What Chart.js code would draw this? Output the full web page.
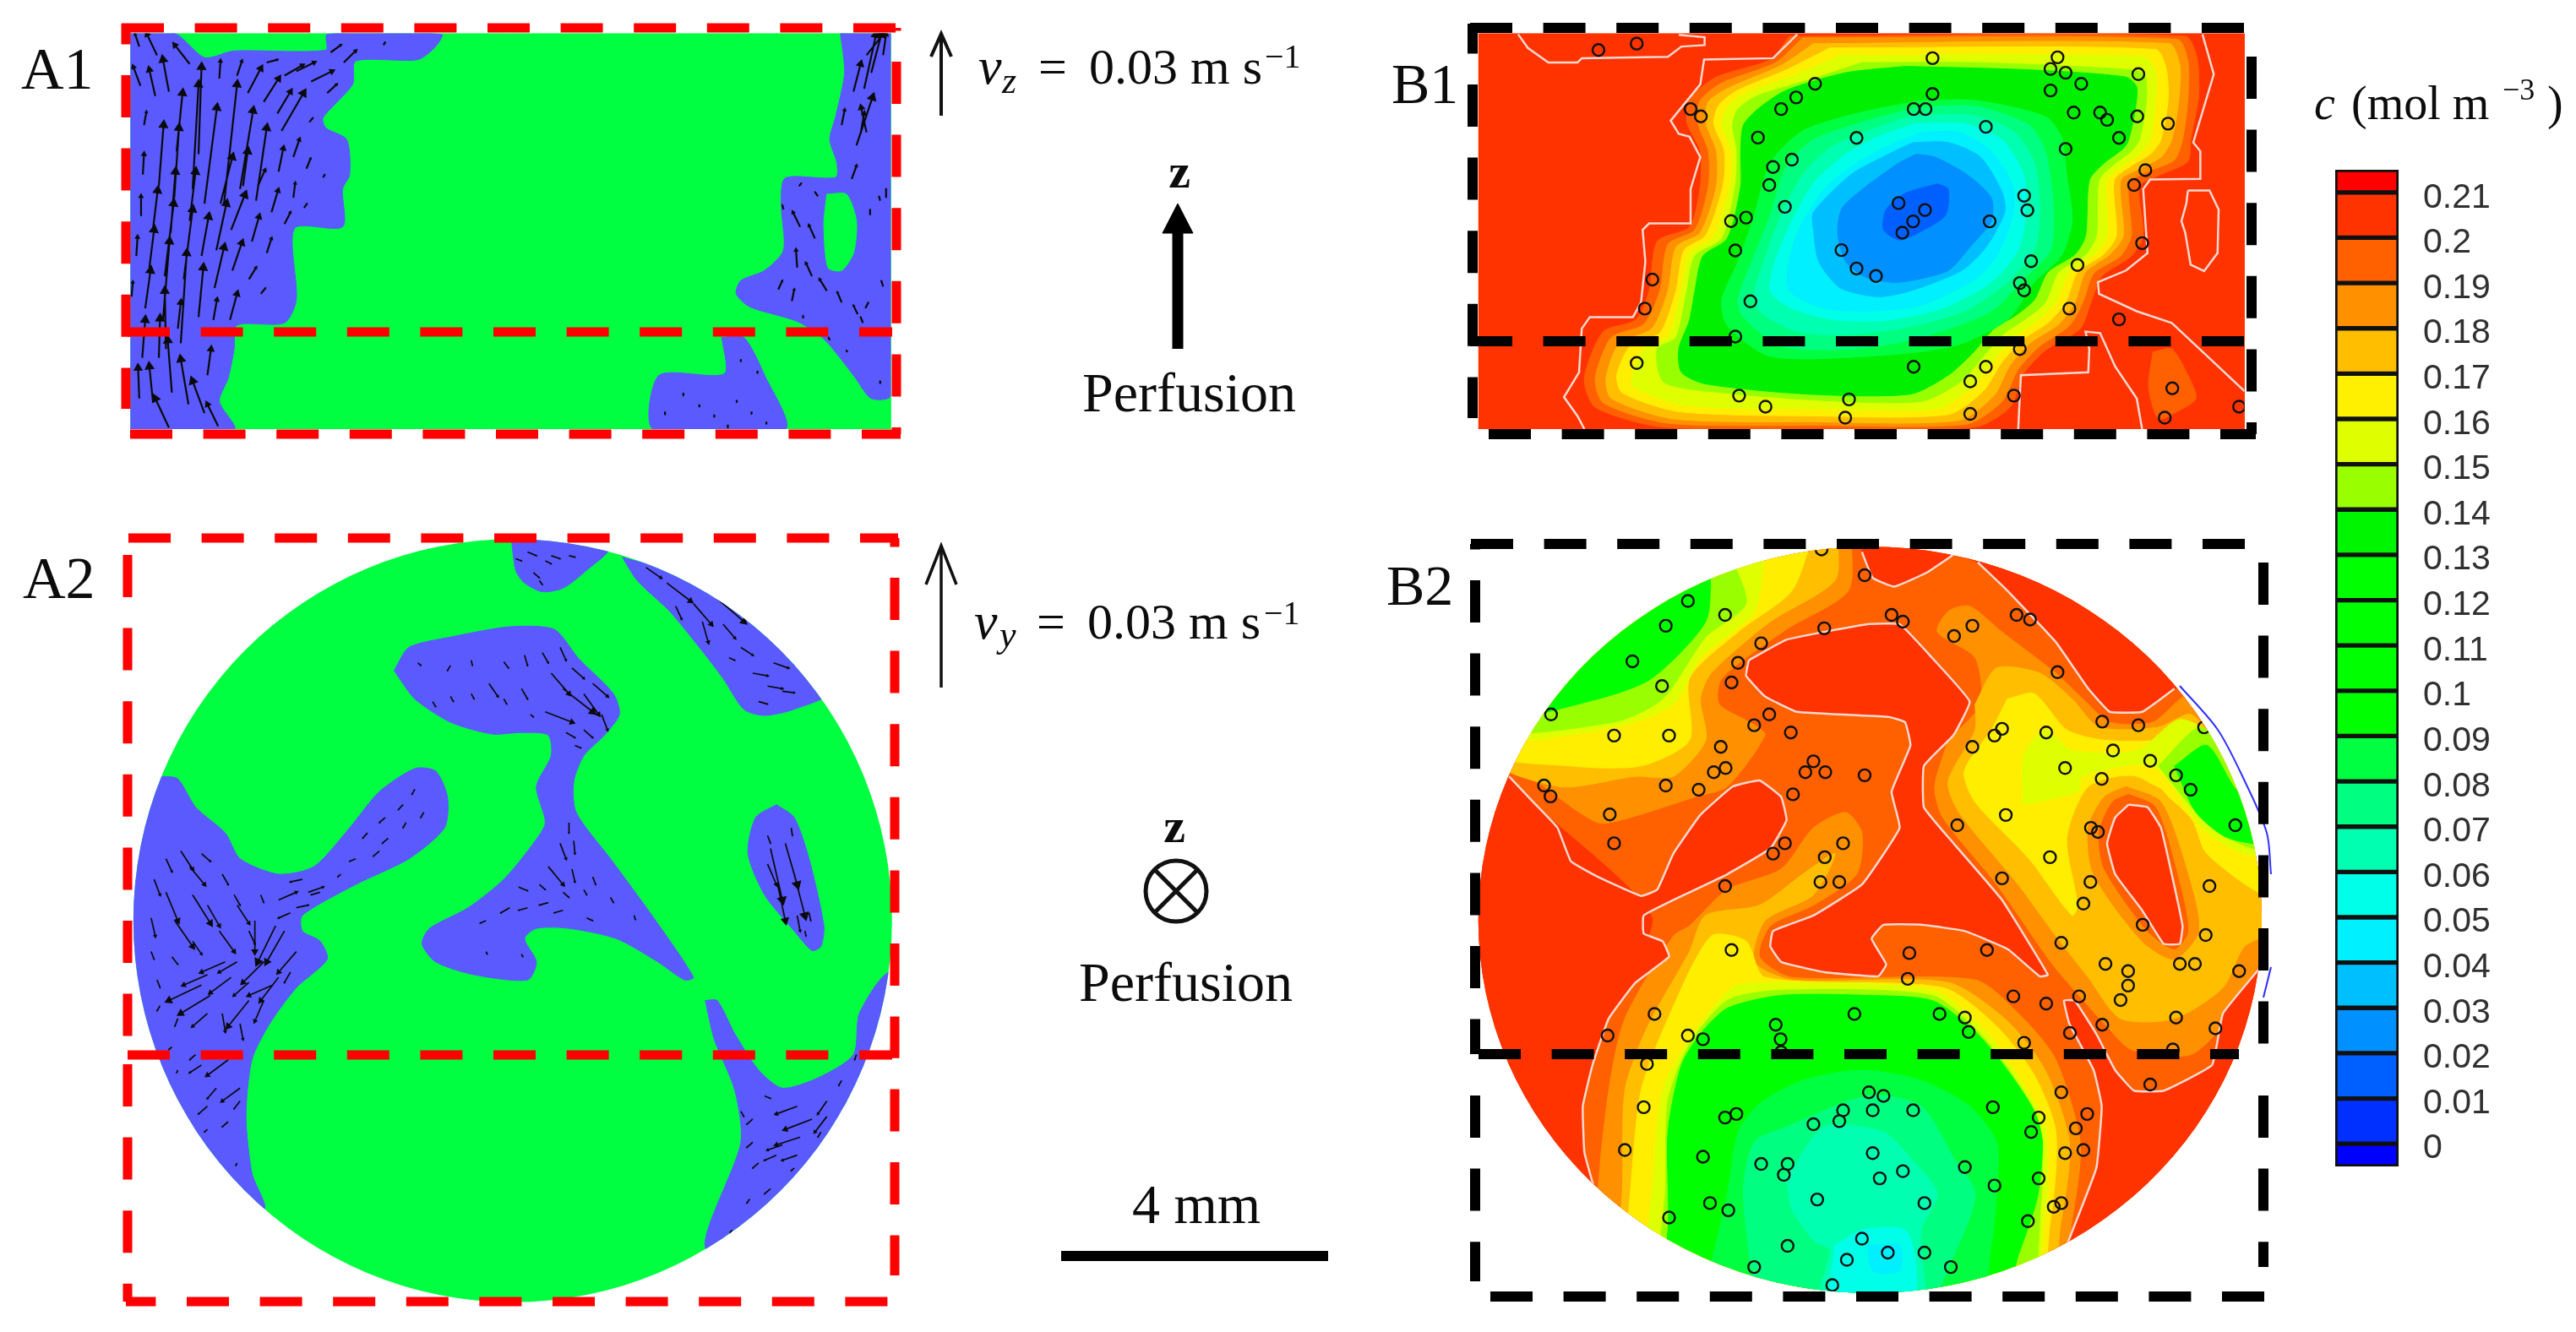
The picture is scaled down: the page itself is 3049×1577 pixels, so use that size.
<!DOCTYPE html>
<html>
<head>
<meta charset="utf-8">
<title>Velocity and concentration</title>
<script src="https://cdn.jsdelivr.net/npm/chart.js@4"></script>
<style>
html, body { margin: 0; padding: 0; background: #fff; overflow: hidden; }
canvas { position: absolute; }
</style>
</head>
<body>
<script>
// colours of the contour levels
var cellLow = [0.21,0.20,0.19,0.18,0.17,0.16,0.15,0.14,0.13,0.12,0.11,0.10,0.09,0.08,0.07,0.06,0.05,0.04,0.03,0.02,0.01,0,-0.005];
var cellHigh = [0.215,0.21,0.20,0.19,0.18,0.17,0.16,0.15,0.14,0.13,0.12,0.11,0.10,0.09,0.08,0.07,0.06,0.05,0.04,0.03,0.02,0.01,0];
var cellColor = ['#ff0000','#ff3300','#ff6000','#ff9000','#ffbf00','#ffef00','#dfff00','#99ff00','#00f500','#00ff00','#00ff00','#00ff00','#00ff00','#00ff40','#00ff80','#00ffb0','#00ffe8','#00f0ff','#00bfff','#0090ff','#0060ff','#0030ff','#0000ff'];
var GREEN = '#00ff40', BLUE = '#5a5aff', WHITE_LINE = '#ffd8d0';

// A1, crop 0,0 1100x540
var a1Base = [[220,115],[1503,115],[1503,1475],[220,1475],[220,115]];
var a1Blue = [
 [[220,115],[295,115],[345,198],[395,175],[550,172],[552,118],[745,118],[735,160],[705,205],[600,210],[595,290],[545,405],[550,440],[585,480],[590,600],[578,650],[578,780],[497,785],[500,1030],[480,1110],[400,1118],[395,1200],[385,1300],[370,1380],[395,1475],[220,1475],[220,115]],
 [[1418,115],[1425,250],[1410,400],[1400,480],[1412,560],[1410,610],[1325,612],[1318,700],[1322,860],[1290,930],[1250,965],[1242,1010],[1265,1055],[1345,1105],[1390,1165],[1440,1290],[1470,1370],[1503,1360],[1503,115],[1418,115]],
 [[1218,1160],[1255,1160],[1290,1290],[1325,1475],[1102,1475],[1112,1290],[1222,1285],[1218,1160]]
];
var a1Green = [[1395,668],[1428,668],[1445,760],[1440,870],[1420,930],[1397,920],[1390,770],[1395,668]];
var a1Arrows = [
 [237,295,225,230],[262,330,252,240],[285,315,275,205],[320,220,295,155],[265,190,248,118],[235,160,228,118],
 [243,430,247,385],[241,600,243,530],[237,740,238,675],[230,880,232,815],[222,1020,224,970],[240,1230,245,1100],[235,1370,233,1265],
 [268,640,276,430],[258,790,266,655],[252,920,260,790],[245,1060,254,930],[268,1230,270,1095],[258,1380,252,1260],[285,1470,262,1370],
 [298,520,308,320],[294,680,302,440],[288,800,296,590],[278,950,293,700],[275,1100,286,830],[280,1200,278,1000],[290,1350,283,1170],[318,1390,305,1235],
 [335,530,340,230],[325,650,335,290],[320,760,330,590],[310,960,325,720],[305,1180,315,870],[300,1130,305,1040],[345,1420,325,1310],
 [345,700,366,370],[340,880,352,745],[335,1090,343,920],[368,1465,350,1390],
 [372,700,392,540],[365,860,382,700],[362,990,378,850],[360,1100,366,1030],[350,1290,356,1200],
 [378,700,400,290],[390,790,413,670],[392,930,408,835],[388,1100,400,1010],
 [405,650,427,380],[432,690,450,440],[410,640,418,520],[425,830,437,745],[450,870,458,820],[420,960,432,920],[440,1010,448,990],
 [418,320,440,235],[445,350,470,270],[435,640,447,585],[458,730,469,655],[468,390,490,315],[475,450,512,320],[470,590,478,510],[480,770,490,730],[495,680,498,630],[495,540,505,480],[513,715,518,700],[517,580,524,545],[522,420,528,405],
 [480,260,510,225],[500,245,530,215],[525,280,560,245],[552,320,568,290],[450,215,468,205],[580,215,600,175],[558,180,575,155],[400,260,408,210],[370,270,372,210],[545,610,548,600],[647,155,650,145],
 [1462,190,1490,118],[1470,250,1487,118],[1490,190,1495,118],[1440,315,1452,220],[1458,305,1478,120],[1420,430,1425,378],[1445,500,1472,335],[1452,460,1458,390],[1462,455,1453,370],[1437,615,1445,570],
 [1348,640,1352,630],[1380,675,1375,660],[1495,680,1495,650],[1485,690,1483,675],[1468,740,1468,720],[1322,720,1320,705],[1350,780,1338,730],[1375,820,1365,775],[1345,920,1343,860],[1370,950,1360,905],[1395,1000,1383,960],[1420,1040,1413,1005],[1313,995,1320,965],[1336,1035,1340,995],[1460,1060,1465,1040],[1447,1080,1440,1050],[1490,985,1487,965],[1355,1095,1355,1085],[1456,1110,1452,1090],[1400,1170,1398,1160],[1430,1210,1428,1205],[1485,1320,1485,1310],
 [1250,1235,1250,1243],[1278,1275,1278,1283],[1153,1350,1153,1360],[1180,1390,1180,1398],[1243,1375,1243,1383],[1122,1415,1122,1425],[1205,1425,1205,1433],[1268,1415,1268,1423],[1293,1450,1293,1458],[1228,1460,1228,1470]
];

// A2, crop 0,620 1100x957
var a2Base = [[100,0],[1568,0],[1568,1568],[100,1568],[100,0]];
var a2Blue = [
 [[862,20],[1025,50],[990,90],[950,125],[915,132],[885,115],[870,90],[862,20]],
 [[1050,65],[1150,100],[1260,180],[1400,325],[1340,360],[1290,372],[1255,360],[1220,300],[1180,240],[1130,170],[1075,110],[1050,65]],
 [[665,285],[690,240],[760,220],[860,200],[935,205],[975,260],[1035,330],[1045,370],[1020,410],[985,450],[968,500],[972,560],[1030,650],[1100,760],[1170,880],[1155,885],[1110,850],[1040,805],[960,785],[905,785],[885,805],[905,850],[890,885],[800,875],[735,850],[712,815],[725,785],[790,745],[850,690],[900,620],[920,580],[905,510],[930,450],[925,410],[880,405],[830,408],[760,385],[700,340],[665,285]],
 [[275,490],[300,495],[330,550],[380,600],[405,650],[470,680],[530,665],[590,590],[640,520],[700,475],[735,480],[755,530],[750,590],[690,650],[600,700],[510,760],[510,790],[540,810],[552,845],[500,900],[455,970],[425,1040],[415,1150],[425,1260],[445,1330],[300,1300],[150,1000],[150,600],[275,490]],
 [[1190,925],[1210,925],[1240,990],[1280,1060],[1320,1095],[1380,1075],[1440,1030],[1450,950],[1500,870],[1560,900],[1560,1300],[1195,1410],[1250,1200],[1240,1100],[1205,1000],[1190,925]],
 [[1310,545],[1340,570],[1365,650],[1390,780],[1385,820],[1370,828],[1340,790],[1290,720],[1262,640],[1275,570],[1310,545]]
];
var a2Arrows = [
 [890,55,905,62],[930,62,945,68],[960,62,970,65],[870,68,880,72],[900,95,910,105],[920,72,930,78],[910,110,915,118],
 [1090,85,1115,105],[1125,115,1165,150],[1140,160,1150,185],[1170,155,1200,195],[1185,190,1195,230],[1210,145,1255,190],[1220,195,1240,222],[1250,240,1270,255],[1270,290,1295,295],[1295,315,1320,320],[1305,270,1330,280],[1320,325,1340,328],[1230,260,1240,265],[1280,345,1295,350],
 [705,270,710,275],[760,275,755,285],[795,265,797,275],[850,268,858,280],[885,255,890,275],[915,250,925,270],[945,240,955,265],[965,280,985,300],[1000,310,1025,335],[930,290,960,330],[950,320,1000,365],[985,330,1010,370],[1015,370,1025,400],[920,365,965,385],[955,405,970,415],[985,400,1000,415],[970,430,980,435],[825,310,840,335],[795,330,800,340],[850,340,855,350],[880,320,890,340],[730,345,735,355],[760,335,765,345],[895,370,900,375],
 [960,580,960,600],[945,620,955,650],[968,615,970,640],[925,665,950,700],[965,670,970,695],[1000,685,1005,700],[875,705,890,712],[910,700,920,710],[950,715,960,725],[985,710,990,720],[860,745,845,755],[890,745,875,750],[925,735,910,740],[950,750,935,755],[820,770,810,775],[1030,725,1035,735],[1070,760,1072,768],[990,765,1000,770],[820,830,822,835],[880,835,882,840],
 [280,650,290,675],[305,635,325,670],[320,665,345,700],[260,690,270,720],[280,715,300,770],[295,770,325,820],[325,720,355,775],[350,740,370,780],[340,640,355,655],[375,680,385,700],[395,720,405,740],[400,740,420,775],[255,765,262,800],[255,830,260,845],[290,840,300,855],[325,810,340,835],[370,790,395,830],[420,790,430,815],[440,720,445,735],[470,730,500,715],[520,715,545,705],[490,755,470,765],[500,745,520,740],[430,770,430,830],[465,780,435,850],[480,790,450,850],[500,830,470,870],[445,850,410,890],[470,880,440,925],[490,870,480,890],[400,850,370,870],[380,850,340,870],[350,875,310,895],[340,895,285,925],[355,915,305,950],[390,880,355,910],[420,890,395,915],[460,895,420,915],[420,925,385,975],[445,925,430,965],[375,950,380,985],[405,970,410,1000],[350,950,325,975],[300,960,295,975],[270,935,265,945],[265,885,270,900],[385,1040,350,1070],[340,1050,320,1065],[405,1095,375,1120],[365,1095,350,1115],[350,1130,335,1145],[385,1160,375,1170],[405,1120,395,1135],[290,1015,285,1020],[300,1060,298,1065],[400,1240,398,1245],[350,1175,345,1180],[330,1030,320,1040],
 [700,515,695,525],[680,545,672,555],[650,570,640,580],[715,560,710,570],[685,580,680,590],[655,610,645,620],[620,600,612,610],[600,650,590,655],[640,635,630,645],[575,680,570,685],[540,715,525,720],[510,690,490,695],
 [1290,1110,1300,1115],[1345,1130,1310,1145],[1395,1120,1380,1145],[1370,1155,1325,1175],[1395,1150,1375,1180],[1350,1190,1310,1205],[1320,1205,1295,1215],[1345,1225,1320,1235],[1310,1225,1290,1235],[1270,1155,1260,1165],[1270,1200,1260,1210],[1280,1240,1270,1250],[1250,1140,1255,1150],[1385,1180,1380,1190],[1340,1250,1335,1255],[1300,1290,1290,1300],[1265,1310,1260,1318],[1235,1370,1232,1375],[1420,1080,1415,1090],[1445,1030,1442,1040],[1430,1120,1425,1130],
 [1300,630,1320,730],[1325,620,1345,700],[1340,680,1358,760],[1295,660,1310,700],[1312,700,1325,770],[1345,760,1350,790],[1365,755,1368,770],[1358,790,1360,800],[1335,590,1337,605],[1295,605,1300,620]
];

// B1, crop 1700,0 1000x540. Each level painted over the one before it
var b1Base = [[78,115],[1500,115],[1500,1475],[78,1475],[78,115]];
var b1Levels = [
 ['#ff6000',[[655,125],[1390,125],[1412,200],[1415,330],[1400,480],[1395,555],[1345,600],[1305,640],[1312,810],[1290,880],[1235,950],[1215,1040],[1195,1130],[1130,1205],[1090,1285],[1065,1400],[1000,1468],[700,1472],[420,1468],[295,1400],[275,1300],[310,1140],[370,1100],[395,1000],[410,830],[470,780],[490,640],[490,520],[465,420],[470,340],[520,265],[620,205],[655,125]]],
 ['#ff6000',[[1330,1210],[1365,1200],[1395,1290],[1410,1370],[1370,1420],[1340,1440],[1322,1330],[1330,1210]]],
 ['#ff9000',[[680,130],[1375,135],[1395,210],[1395,340],[1385,480],[1370,550],[1320,590],[1285,630],[1290,810],[1270,880],[1220,940],[1200,1040],[1175,1120],[1120,1190],[1080,1270],[1050,1380],[985,1458],[700,1462],[430,1455],[310,1385],[295,1300],[325,1160],[385,1115],[415,1000],[430,840],[480,790],[505,640],[505,520],[485,420],[490,345],[530,285],[630,215],[680,130]]],
 ['#ffbf00',[[700,150],[1360,150],[1380,225],[1378,345],[1365,480],[1345,540],[1305,580],[1270,620],[1275,810],[1250,875],[1205,935],[1185,1040],[1155,1115],[1105,1175],[1065,1255],[1035,1360],[970,1445],[700,1450],[440,1440],[325,1370],[315,1300],[340,1180],[400,1130],[430,1000],[445,850],[490,800],[520,640],[520,520],[500,420],[505,350],[545,300],[640,225],[700,150]]],
 ['#ffee00',[[730,165],[1335,170],[1355,240],[1358,345],[1345,480],[1325,530],[1290,570],[1258,620],[1262,810],[1238,875],[1190,935],[1168,1040],[1135,1110],[1090,1165],[1050,1245],[1015,1345],[950,1425],[700,1430],[450,1415],[345,1350],[335,1290],[360,1190],[415,1145],[445,1000],[460,860],[500,810],[532,640],[535,520],[515,425],[525,360],[560,310],[650,240],[730,165]]],
 ['#dfff00',[[750,190],[1315,195],[1335,250],[1335,345],[1325,480],[1305,530],[1275,570],[1245,620],[1245,810],[1222,875],[1175,935],[1150,1040],[1115,1105],[1075,1155],[1035,1235],[995,1330],[930,1405],[700,1405],[465,1395],[365,1330],[365,1280],[385,1200],[430,1155],[455,1000],[470,870],[515,815],[545,640],[548,520],[530,430],[540,370],[575,320],[670,255],[750,190]]],
 ['#99ff00',[[790,215],[1000,215],[1290,240],[1315,260],[1318,345],[1305,480],[1290,520],[1258,565],[1230,620],[1225,810],[1205,875],[1155,935],[1130,1040],[1095,1095],[1055,1145],[1015,1225],[975,1310],[900,1380],[700,1375],[480,1340],[420,1310],[410,1200],[445,1160],[465,1000],[480,880],[530,820],[555,640],[558,520],[550,430],[560,375],[595,330],[700,270],[790,215]]],
 ['#00f000',[[870,228],[1100,240],[1280,265],[1300,300],[1295,400],[1280,500],[1240,560],[1212,620],[1205,810],[1185,875],[1135,935],[1110,1030],[1075,1085],[1035,1130],[995,1215],[950,1290],[880,1355],[690,1355],[500,1320],[455,1280],[450,1200],[470,1100],[480,1000],[495,880],[540,820],[565,640],[565,520],[570,430],[600,370],[650,310],[760,250],[870,228]]],
 ['#00ff40',[[900,345],[1000,345],[1130,400],[1160,470],[1170,600],[1180,760],[1160,880],[1110,970],[1060,1100],[960,1190],[800,1225],[620,1225],[540,1120],[530,1030],[560,900],[590,740],[620,560],[680,450],[780,390],[900,345]]],
 ['#00ff80',[[890,370],[1000,365],[1100,430],[1130,520],[1145,700],[1140,860],[1090,960],[1030,1070],[900,1160],[770,1200],[640,1190],[570,1090],[560,1030],[590,880],[620,740],[650,570],[700,480],[790,420],[890,370]]],
 ['#00ffb0',[[880,400],[990,395],[1070,450],[1110,560],[1120,720],[1110,860],[1060,970],[980,1070],[860,1130],[760,1150],[670,1140],[600,1070],[590,1010],[610,890],[640,740],[680,600],[730,510],[800,450],[880,400]]],
 ['#00ffe8',[[890,425],[980,425],[1050,480],[1090,600],[1095,720],[1080,860],[1030,970],[940,1060],[840,1100],[740,1100],[660,1060],[620,1000],[630,890],[660,760],[700,630],[760,530],[820,470],[890,425]]],
 ['#00f0ff',[[900,455],[970,455],[1030,520],[1070,640],[1070,740],[1040,880],[1000,960],[900,1050],[800,1070],[720,1060],[660,1010],[650,950],[670,800],[720,650],[780,560],[840,500],[900,455]]],
 ['#00bfff',[[885,490],[950,490],[1010,540],[1050,660],[1055,730],[1020,850],[975,930],[880,1000],[820,1020],[750,990],[710,900],[700,790],[700,730],[770,600],[850,520],[885,490]]],
 ['#0090ff',[[890,530],[925,540],[985,600],[1030,680],[1030,760],[990,850],[950,930],[860,970],[800,955],[760,900],[745,800],[755,710],[850,570],[890,530]]],
 ['#0060ff',[[930,632],[950,650],[945,740],[900,795],[860,825],[830,790],[835,720],[870,665],[930,632]]]
];
var b1White = [
 [[152,118],[170,165],[208,215],[262,215],[270,200],[430,195],[455,160],[498,155],[498,128],[450,120]],
 [[670,118],[625,200],[497,205],[490,290],[435,415],[450,460],[470,470],[490,540],[472,650],[472,768],[395,768],[383,790],[388,900],[380,1040],[365,1090],[285,1090],[270,1130],[265,1280],[237,1365],[262,1430],[275,1475]],
 [[1422,118],[1443,255],[1405,490],[1418,520],[1418,615],[1325,617],[1312,650],[1320,870],[1280,930],[1228,970],[1230,1010],[1300,1070],[1365,1110],[1440,1240],[1500,1345]],
 [[1395,655],[1435,655],[1452,720],[1450,870],[1425,932],[1400,910],[1390,800],[1383,760],[1392,700],[1395,655]],
 [[1080,1475],[1085,1290],[1210,1280],[1212,1200],[1205,1140],[1232,1145],[1260,1260],[1300,1370],[1310,1475]]
];
var b1Dots = [[372,150],[301,172],[921,200],[1153,197],[1140,237],[1168,250],[1303,255],[703,288],[1197,288],[1140,311],[921,323],[668,335],[640,375],[886,375],[908,375],[472,375],[491,400],[1183,387],[1232,387],[1245,412],[1301,400],[1358,425],[1020,436],[597,473],[780,474],[1267,474],[1168,512],[660,549],[625,574],[1316,585],[618,636],[1295,636],[1091,673],[858,698],[647,711],[907,722],[1097,723],[575,748],[547,760],[885,761],[1027,761],[865,800],[1310,836],[555,861],[752,860],[1104,898],[1190,911],[780,923],[816,949],[401,961],[1083,973],[1091,998],[583,1036],[387,1061],[1175,1061],[1267,1098],[555,1157],[1083,1200],[372,1248],[886,1261],[1020,1261],[991,1311],[1366,1335],[562,1360],[1072,1360],[766,1373],[611,1398],[1490,1398],[991,1423],[759,1436],[1352,1436]];

// B2, crop 1700,620 1000x957
var b2Base = [[0,0],[1568,0],[1568,1568],[0,1568],[0,0]];
var b2Levels = [
 // everything that is not deep red, the red islands go over it later
 ['#ff6000',[[770,20],[1568,20],[1568,1200],[1200,1568],[250,1568],[250,1000],[330,900],[400,760],[100,440],[300,300],[550,100],[770,20]]],
 // upper left
 ['#ff9000',[[770,20],[765,130],[650,205],[530,300],[525,350],[590,390],[610,410],[540,510],[480,530],[360,570],[300,580],[200,510],[100,430],[300,100],[770,20]]],
 ['#ffbf00',[[745,20],[740,110],[620,190],[510,290],[490,340],[500,420],[440,490],[370,490],[230,510],[100,450],[300,100],[745,20]]],
 ['#ffee00',[[700,20],[660,130],[560,210],[470,300],[470,420],[380,470],[250,470],[100,440],[300,100],[700,20]]],
 ['#dfff00',[[610,40],[590,170],[490,260],[440,350],[330,395],[100,410],[300,100],[610,40]]],
 ['#99ff00',[[545,60],[575,155],[500,220],[420,340],[330,385],[100,395],[300,100],[545,60]]],
 ['#00ff00',[[510,90],[500,190],[400,300],[300,340],[130,370],[300,120],[510,90]]],
 // middle strip and lower band
 ['#ff9000',[[300,1568],[300,1300],[320,1100],[350,960],[440,800],[470,780],[540,710],[640,670],[700,590],[760,560],[790,600],[780,680],[700,740],[620,780],[600,840],[660,880],[1000,885],[1090,960],[1150,1040],[1195,1200],[1180,1350],[1130,1568],[300,1568]]],
 ['#ffbf00',[[320,1568],[345,1300],[350,1100],[390,980],[470,830],[500,760],[600,740],[680,680],[740,640],[700,720],[610,770],[590,850],[660,885],[950,890],[1060,965],[1130,1060],[1175,1200],[1160,1350],[1110,1568],[320,1568]]],
 ['#ffee00',[[340,1568],[360,1300],[380,1100],[430,960],[510,800],[575,810],[610,880],[940,900],[1040,975],[1110,1070],[1150,1180],[1140,1350],[1090,1568],[340,1568]]],
 ['#dfff00',[[370,1568],[400,1300],[420,1100],[470,1000],[550,900],[620,890],[920,905],[1020,985],[1085,1080],[1130,1170],[1130,1340],[1080,1568],[370,1568]]],
 ['#99ff00',[[395,1568],[425,1300],[430,1120],[470,1010],[540,925],[640,905],[920,915],[1005,985],[1070,1070],[1118,1160],[1122,1320],[1075,1568],[395,1568]]],
 ['#00ff00',[[400,1568],[430,1370],[430,1180],[455,1050],[490,990],[540,940],[640,915],[800,915],[920,925],[1000,985],[1060,1060],[1110,1140],[1125,1200],[1115,1310],[1080,1420],[1030,1568],[400,1568]]],
 ['#00ff40',[[480,1568],[540,1300],[560,1180],[600,1125],[680,1080],[790,1060],[900,1080],[990,1130],[1040,1200],[1040,1300],[1030,1400],[990,1568],[480,1568]]],
 ['#00ff80',[[600,1568],[570,1300],[590,1200],[650,1170],[800,1110],[900,1130],[960,1230],[1000,1300],[960,1420],[880,1568],[600,1568]]],
 ['#00ffb0',[[650,1270],[720,1170],[830,1180],[880,1230],[930,1300],[900,1370],[900,1568],[700,1568],[730,1410],[700,1390],[660,1330],[650,1270]]],
 ['#00ffe8',[[740,1400],[790,1370],[870,1370],[890,1440],[880,1568],[730,1568],[740,1400]]],
 ['#00f0ff',[[800,1400],[860,1400],[860,1450],[810,1450],[800,1400]]],
 // right side
 ['#ff9000',[[950,420],[925,510],[940,570],[1040,700],[1140,850],[1180,900],[1240,970],[1290,1020],[1400,1030],[1470,960],[1530,850],[1568,800],[1568,620],[1500,400],[1400,330],[1330,385],[1250,385],[1200,340],[1150,290],[1050,210],[990,160],[950,170],[930,210],[1000,260],[1010,350],[950,420]]],
 ['#ffbf00',[[1000,350],[1040,280],[1120,290],[1180,340],[1230,395],[1340,395],[1400,370],[1450,430],[1568,640],[1568,780],[1500,820],[1460,900],[1370,960],[1270,960],[1210,880],[1150,800],[1080,700],[970,560],[950,500],[1000,400],[1000,350]]],
 ['#ffee00',[[1060,340],[1110,330],[1170,400],[1240,420],[1340,420],[1390,400],[1480,560],[1540,640],[1540,720],[1430,640],[1400,570],[1300,490],[1210,510],[1170,610],[1190,740],[1180,760],[1100,650],[1000,540],[980,480],[1030,400],[1060,340]]],
 ['#dfff00',[[1090,545],[1090,450],[1130,400],[1180,440],[1300,440],[1380,380],[1450,420],[1568,640],[1500,640],[1420,590],[1330,470],[1200,490],[1190,520],[1090,545]]],
 ['#99ff00',[[1340,470],[1420,395],[1490,490],[1568,640],[1490,620],[1420,570],[1340,470]]],
 ['#00ff00',[[1370,470],[1430,430],[1480,510],[1568,620],[1470,610],[1410,560],[1370,470]]],
 ['#ffbf00',[[1270,490],[1350,520],[1420,680],[1440,800],[1370,880],[1300,830],[1200,680],[1190,570],[1220,510],[1270,490]]],
 ['#ff9000',[[1280,510],[1345,540],[1395,680],[1415,790],[1370,845],[1310,810],[1220,680],[1210,590],[1240,530],[1280,510]]],
 ['#ff6000',[[1285,525],[1335,550],[1375,680],[1395,790],[1370,825],[1320,790],[1240,670],[1230,600],[1255,540],[1285,525]]]
];
var b2Red = [
 // left with the arm
 [[135,490],[180,540],[225,590],[250,655],[300,685],[380,722],[410,710],[440,640],[490,565],[550,510],[600,498],[640,530],[650,575],[620,630],[540,680],[460,720],[385,760],[385,795],[420,810],[432,840],[370,890],[320,960],[290,1050],[272,1130],[275,1220],[292,1285],[340,1568],[0,1568],[0,490],[135,490]],
 // centre island
 [[580,265],[650,225],[800,195],[860,195],[920,260],[990,345],[960,410],[905,470],[905,550],[960,620],[1050,730],[1135,875],[1120,878],[1060,825],[980,790],[900,778],[830,778],[808,805],[835,855],[820,878],[720,870],[640,850],[620,820],[625,790],[700,760],[790,700],[860,590],[845,520],[880,430],[870,385],[840,375],[670,365],[610,335],[575,295],[580,265]],
 // top right
 [[790,0],[790,55],[810,105],[850,122],[910,95],[960,60],[1005,75],[1060,130],[1150,230],[1210,320],[1250,365],[1310,365],[1370,320],[1568,300],[1568,0],[790,0]],
 // tear
 [[1285,545],[1320,550],[1345,590],[1365,680],[1385,780],[1380,815],[1350,815],[1310,750],[1260,680],[1245,620],[1260,570],[1285,545]],
 // lower right
 [[1165,925],[1185,925],[1225,990],[1260,1060],[1295,1100],[1350,1100],[1440,1050],[1460,950],[1530,860],[1568,860],[1568,1568],[1100,1568],[1170,1400],[1225,1250],[1235,1130],[1220,1060],[1175,970],[1165,925]]
];
var b2White = [
 [[135,490],[180,540],[225,590],[250,655],[300,685],[380,722],[410,710],[440,640],[490,565],[550,510],[600,498],[640,530],[650,575],[620,630],[540,680],[460,720],[385,760],[385,795],[420,810],[432,840],[370,890],[320,960],[290,1050],[272,1130],[275,1220],[292,1285]],
 [[580,265],[650,225],[800,195],[860,195],[920,260],[990,345],[960,410],[905,470],[905,550],[960,620],[1050,730],[1135,875],[1120,878],[1060,825],[980,790],[900,778],[830,778],[808,805],[835,855],[820,878],[720,870],[640,850],[620,820],[625,790],[700,760],[790,700],[860,590],[845,520],[880,430],[870,385],[840,375],[670,365],[610,335],[575,295],[580,265]],
 [[790,55],[810,105],[850,122],[910,95],[960,60]],
 [[1005,75],[1060,130],[1150,230],[1210,320],[1250,365],[1310,365],[1370,320]],
 [[1285,545],[1320,550],[1345,590],[1365,680],[1385,780],[1380,815],[1350,815],[1310,750],[1260,680],[1245,620],[1260,570],[1285,545]],
 [[1170,1400],[1225,1250],[1235,1130],[1220,1060],[1175,970],[1165,925],[1185,925],[1225,990],[1260,1060],[1295,1100],[1350,1100],[1440,1050],[1460,950],[1530,860]]
];
var b2Dots = [[715,50],[795,100],[467,150],[536,177],[845,177],[866,190],[1077,177],[1102,186],[426,198],[995,198],[720,203],[961,218],[603,232],[364,267],[560,270],[1153,288],[548,308],[419,315],[618,370],[213,370],[590,391],[1236,384],[1303,391],[1050,398],[1036,411],[658,405],[330,411],[432,411],[1132,405],[1425,395],[528,433],[995,433],[1256,440],[700,461],[1325,460],[537,474],[515,482],[685,482],[722,482],[1167,474],[795,488],[1235,495],[1373,488],[200,508],[426,508],[487,516],[1400,516],[212,529],[662,525],[322,564],[1057,565],[967,585],[1483,585],[1215,590],[1228,598],[647,620],[330,620],[755,620],[625,640],[721,647],[1139,647],[1050,688],[713,695],[748,695],[1214,695],[536,703],[1435,703],[1201,737],[1311,778],[1428,798],[1160,813],[548,827],[878,833],[1022,827],[1242,854],[1380,854],[1408,854],[1284,868],[875,883],[1490,868],[1284,896],[1071,917],[1193,917],[1270,924],[1132,931],[405,951],[776,951],[934,951],[981,958],[1373,958],[630,972],[1236,972],[1446,979],[988,986],[318,993],[467,993],[495,1000],[639,1000],[1176,988],[1091,1007],[1367,1020],[640,1025],[391,1048],[1325,1088],[803,1103],[830,1110],[1160,1103],[755,1138],[810,1138],[885,1138],[1033,1132],[385,1132],[557,1145],[536,1152],[1208,1145],[748,1159],[1118,1152],[700,1165],[1187,1173],[1104,1180],[350,1215],[810,1221],[1167,1221],[1201,1215],[495,1228],[603,1242],[652,1242],[981,1248],[645,1263],[866,1256],[823,1270],[1118,1270],[1036,1284],[707,1311],[906,1318],[508,1318],[1160,1318],[1146,1325],[542,1332],[432,1346],[1098,1353],[790,1387],[652,1401],[838,1414],[906,1414],[762,1428],[590,1442],[955,1442],[735,1477]];

// dashed frames in page pixels: x0,y0,x1,y1,where the first full dash starts along the line
var redFrames = [[144,33,1066,33,144],[1061,33,1061,514,73],[154,514,1066,514,154],[149,28,149,484,89],[150,393,1056,393,151],
 [152,637,1063,637,152],[1059,637,1059,1252,684],[151,637,151,1249,657],[151,1249,1056,1249,151],[151,1249,151,1541,1260],[149,1541,1053,1541,221],[1059,1252,1059,1510,1376]];
var blackFrames = [[1740,33,2660,33,1740],[2665,33,2665,514,67],[1743,28,1743,495,100],[1740,404,2665,404,1740],[1762,514,2670,514,1762],
 [1741,644,2660,644,1741],[1746,644,1746,1248,687],[1750,1248,2650,1248,1750],[2679,666,2679,1248,666],[1746,1297,1746,1517,1297],[2679,1297,2679,1500,1297],[1764,1535,2682,1535,1764]];

// annotation marks in page pixels
var vzArrow = [[1114,137],[1114,42]], vzHead = [[1102,67],[1114,40],[1126,67]];
var vyArrow = [[1114,814],[1114,650]], vyHead = [[1096,692],[1114,646],[1132,692]];
var flowShaft = [[1394,413],[1394,270]], flowHead = [[1376,276],[1394,241],[1412,276],[1376,276]];
var scaleBar = [[1256,1487],[1572,1487]];
var flowInto = [[1392,1055]];
var strayArc = [[2580,812],[2625,864],[2657,925],[2683,986],[2688,1035]], strayArc2 = [[2679,1181],[2688,1145]];

var serif = '"Liberation Serif"';
// text, x, baseline, font
var textRuns = [
 ['A1',25,105,'70px '+serif],['A2',27,708,'70px '+serif],['B1',1647,122,'68px '+serif],['B2',1641,716,'68px '+serif],
 ['z',1396,222,'bold 58px '+serif,'center'],['Perfusion',1281,487,'66px '+serif],
 ['z',1390,997,'bold 58px '+serif,'center'],['Perfusion',1277,1185,'66px '+serif],
 ['4 mm',1340,1448,'66px '+serif],
 ['v',1158,99,'italic 62px '+serif],['z',1186,110,'italic 44px '+serif],['=',1229,99,'60px '+serif],['0.03 m s',1289,99,'60px '+serif],['−1',1497,80,'40px '+serif],
 ['v',1153,756,'italic 62px '+serif],['y',1183,766,'italic 44px '+serif],['=',1227,756,'60px '+serif],['0.03 m s',1287,756,'60px '+serif],['−1',1496,739,'40px '+serif],
 ['c',2739,141,'italic 56px '+serif],['(mol m',2783,141,'56px '+serif],['−3',2962,118,'36px '+serif],[')',3015,141,'56px '+serif]
];

function makeCanvas(x, y, w, h) {
  var c = document.createElement('canvas');
  c.width = w; c.height = h;
  c.style.left = x + 'px'; c.style.top = y + 'px';
  c.style.width = w + 'px'; c.style.height = h + 'px';
  document.body.appendChild(c);
  return c;
}
function pts(list) {
  return list.map(function (p) { return { x: p[0], y: p[1] }; });
}
function shape(list, color, tension) {
  return { type: 'scatter', data: pts(list), showLine: true, fill: 'shape', backgroundColor: color, borderColor: color,
           borderWidth: 1, pointRadius: 0, tension: tension === undefined ? 0.25 : tension, clip: false };
}
function line(list, color, width, tension) {
  return { type: 'scatter', data: pts(list), showLine: true, fill: false, borderColor: color, borderWidth: width,
           pointRadius: 0, tension: tension || 0, clip: false };
}
function dots(list) {
  return { type: 'scatter', data: pts(list), showLine: false, pointStyle: 'circle', pointRadius: 7, pointBorderWidth: 2.4,
           pointBorderColor: '#101010', pointBackgroundColor: 'rgba(0,0,0,0)', clip: false };
}
// two datasets: shafts split by gaps, and a triangle on every tip
function arrows(list, fx, fy, width, headScale) {
  var seg = [], tips = [], rot = [], rad = [];
  list.forEach(function (a) {
    seg.push({ x: a[0], y: a[1] }, { x: a[2], y: a[3] }, { x: NaN, y: NaN });
    var dx = (a[2] - a[0]) * fx, dy = (a[3] - a[1]) * fy;
    var len = Math.sqrt(dx * dx + dy * dy);
    tips.push({ x: a[2], y: a[3] });
    rot.push(Math.atan2(dx, -dy) * 180 / Math.PI);
    rad.push(Math.max(1.5, Math.min(7, len * headScale)));
  });
  return [
    { type: 'scatter', data: seg, showLine: true, spanGaps: false, fill: false, borderColor: '#0a0a0a', borderWidth: width, pointRadius: 0, clip: false },
    { type: 'scatter', data: tips, showLine: false, pointStyle: 'triangle', pointRotation: rot, pointRadius: rad,
      pointBackgroundColor: '#0a0a0a', pointBorderWidth: 0, clip: false }
  ];
}

var shapeClip = {
  id: 'shapeClip',
  beforeDatasetsDraw: function (chart, args, opts) {
    var c = opts.area, ctx = chart.ctx, sx = chart.scales.x, sy = chart.scales.y;
    if (!c) return;
    ctx.save();
    ctx.beginPath();
    if (c.length === 4) {
      ctx.ellipse(sx.getPixelForValue(c[0]), sy.getPixelForValue(c[1]),
        Math.abs(sx.getPixelForValue(c[0] + c[2]) - sx.getPixelForValue(c[0])),
        Math.abs(sy.getPixelForValue(c[1] + c[3]) - sy.getPixelForValue(c[1])), 0, 0, Math.PI * 2);
    } else {
      var x0 = sx.getPixelForValue(c[0][0]), y0 = sy.getPixelForValue(c[0][1]);
      ctx.rect(x0, y0, sx.getPixelForValue(c[1][0]) - x0, sy.getPixelForValue(c[1][1]) - y0);
    }
    ctx.clip();
  },
  afterDatasetsDraw: function (chart, args, opts) {
    if (opts.area) chart.ctx.restore();
  }
};
Chart.register(shapeClip);

// panel axes run over the crop, 0..1568 both ways with y down
function panel(x, y, w, h, area, datasets) {
  return new Chart(makeCanvas(x, y, w, h), {
    type: 'scatter',
    data: { datasets: datasets.slice().reverse() }, // first dataset is painted last
    options: {
      responsive: false, animation: false, devicePixelRatio: 1,
      layout: { padding: 0, autoPadding: false },
      plugins: { legend: { display: false }, tooltip: { enabled: false }, shapeClip: { area: area } },
      scales: {
        x: { type: 'linear', display: false, min: 0, max: 1568 },
        y: { type: 'linear', display: false, min: 0, max: 1568, reverse: true }
      }
    }
  });
}

// A1
var a1Sets = [shape(a1Base, GREEN, 0)];
a1Blue.forEach(function (p) { a1Sets.push(shape(p, BLUE)); });
a1Sets.push(shape(a1Green, GREEN));
a1Sets = a1Sets.concat(arrows(a1Arrows, 1100 / 1568, 540 / 1568, 2.2, 0.18));
panel(0, 0, 1100, 540, [[220, 115], [1503, 1475]], a1Sets);

// A2
var a2Sets = [shape(a2Base, GREEN, 0)];
a2Blue.forEach(function (p) { a2Sets.push(shape(p, BLUE)); });
a2Sets = a2Sets.concat(arrows(a2Arrows, 1100 / 1568, 957 / 1568, 1.7, 0.14));
panel(0, 620, 1100, 957, [865, 770, 640, 740], a2Sets);

// B1
var b1Sets = [shape(b1Base, '#ff3300', 0)];
b1Levels.forEach(function (l) { b1Sets.push(shape(l[1], l[0])); });
b1White.forEach(function (p) { b1Sets.push(line(p, WHITE_LINE, 2.5)); });
b1Sets.push(dots(b1Dots));
panel(1700, 0, 1000, 540, [[78, 115], [1500, 1475]], b1Sets);

// B2
var b2Sets = [shape(b2Base, '#ff3300', 0)];
b2Levels.forEach(function (l) { b2Sets.push(shape(l[1], l[0])); });
b2Red.forEach(function (p) { b2Sets.push(shape(p, '#ff3300', 0.1)); });
b2White.forEach(function (p) { b2Sets.push(line(p, WHITE_LINE, 2.5, 0.1)); });
b2Sets.push(dots(b2Dots));
panel(1700, 620, 1000, 957, [805, 768.5, 727, 724], b2Sets);

// colour bar
var barSets = cellColor.map(function (c, i) {
  return { data: [[cellLow[i], cellHigh[i]]], backgroundColor: c, borderColor: '#101010', borderWidth: 3,
           borderSkipped: false, barPercentage: 1, categoryPercentage: 1, grouped: false, yAxisID: 'y' };
});
new Chart(makeCanvas(2764, 199, 255, 1184), {
  type: 'bar',
  data: { labels: ['c'], datasets: barSets },
  options: {
    responsive: false, animation: false, devicePixelRatio: 1,
    layout: { padding: { top: 2, bottom: 2 }, autoPadding: false },
    plugins: { legend: { display: false }, tooltip: { enabled: false } },
    scales: {
      x: { display: false },
      y: { display: false, min: -0.005, max: 0.215 },
      // same ticks, moved a few pixels down as in the picture
      y1: {
        position: 'right', min: -0.0039, max: 0.2162,
        afterFit: function (s) { s.width = 180; s.paddingTop = 0; s.paddingBottom = 0; },
        grid: { display: false, drawTicks: false }, border: { display: false },
        ticks: {
          stepSize: 0.01, includeBounds: false, padding: 29, color: '#303030',
          font: { family: '"Liberation Sans"', size: 41 }, autoSkip: false,
          callback: function (v) { return String(Number(v.toFixed(2))); }
        }
      }
    }
  }
});

// frames, arrows and all text on a chart over the whole page
var textPlugin = {
  id: 'textRuns',
  afterDatasetsDraw: function (chart) {
    var ctx = chart.ctx;
    ctx.save();
    ctx.fillStyle = '#0c0c0c';
    ctx.textBaseline = 'alphabetic';
    textRuns.forEach(function (r) {
      ctx.font = r[3];
      ctx.textAlign = r[4] || 'left';
      ctx.fillText(r[0], chart.scales.x.getPixelForValue(r[1]), chart.scales.y.getPixelForValue(r[2]));
    });
    ctx.restore();
  }
};
function frameSet(f, color, width) {
  var d0 = Math.abs(f[0] === f[2] ? f[4] - f[1] : f[4] - f[0]);
  var ds = line([[f[0], f[1]], [f[2], f[3]]], color, width);
  ds.borderDash = [50, 36.6];
  ds.borderDashOffset = d0 === 0 ? 0 : 86.6 - (d0 % 86.6);
  ds.borderCapStyle = 'butt';
  return ds;
}
var pageSets = [];
redFrames.forEach(function (f) { pageSets.push(frameSet(f, '#ff0000', 11)); });
blackFrames.forEach(function (f) { pageSets.push(frameSet(f, '#000000', 12)); });
pageSets.push(line(strayArc, '#3030ff', 2, 0.3), line(strayArc2, '#3030ff', 2));
pageSets.push(line(vzArrow, '#111', 4), line(vzHead, '#111', 4));
pageSets.push(line(vyArrow, '#111', 3.5), line(vyHead, '#111', 3.5));
pageSets.push(line(flowShaft, '#000', 13), shape(flowHead, '#000', 0));
pageSets.push(line(scaleBar, '#000', 12));
pageSets.push({ type: 'scatter', data: pts(flowInto), pointStyle: 'circle', pointRadius: 36, pointBorderWidth: 5, pointBorderColor: '#111', pointBackgroundColor: 'rgba(0,0,0,0)' });
pageSets.push({ type: 'scatter', data: pts(flowInto), pointStyle: 'crossRot', pointRadius: 36, pointBorderWidth: 5, pointBorderColor: '#111' });

new Chart(makeCanvas(0, 0, 3049, 1577), {
  type: 'scatter',
  data: { datasets: pageSets },
  options: {
    responsive: false, animation: false, devicePixelRatio: 1,
    layout: { padding: 0, autoPadding: false },
    plugins: { legend: { display: false }, tooltip: { enabled: false } },
    scales: {
      x: { type: 'linear', display: false, min: 0, max: 3049 },
      y: { type: 'linear', display: false, min: 0, max: 1577, reverse: true }
    }
  },
  plugins: [textPlugin]
});
</script>
</body>
</html>
